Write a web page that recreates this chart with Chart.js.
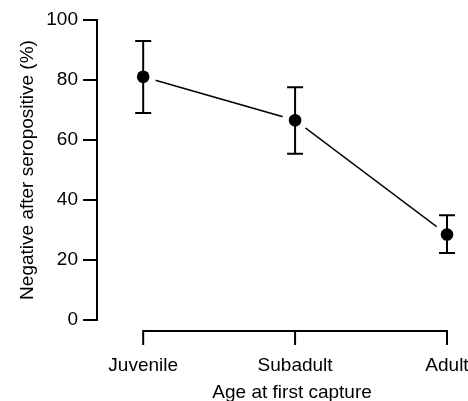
<!DOCTYPE html>
<html>
<head>
<meta charset="utf-8">
<script src="https://cdn.jsdelivr.net/npm/chart.js@4"></script>
<style>
html,body{margin:0;padding:0;background:#fff;}
#wrap{width:468px;height:401px;position:relative;}
</style>
</head>
<body>
<div id="wrap"><canvas id="c"></canvas></div>
<script>
const categories = ['Juvenile', 'Subadult', 'Adult'];
const values = [81.1, 66.6, 28.5];
const upper = [93.0, 77.6, 34.9];
const lower = [69.0, 55.4, 22.3];
const yTicks = [0, 20, 40, 60, 80, 100];
const xTitle = 'Age at first capture';
const yTitle = 'Negative after seropositive (%)';

const pts = values.map((v, i) => ({x: i, y: v}));
const FONT = 'Liberation Sans, Arial, Helvetica, sans-serif';

const axisPlugin = {
  id: 'customAxes',
  afterDatasetsDraw(chart) {
    const ctx = chart.ctx;
    const xs = chart.scales.x, ys = chart.scales.y;
    ctx.save();
    ctx.strokeStyle = '#000';
    ctx.lineWidth = 2;
    const cap = 8;
    categories.forEach((c, i) => {
      const px = xs.getPixelForValue(i);
      const yh = ys.getPixelForValue(upper[i]);
      const yl = ys.getPixelForValue(lower[i]);
      ctx.beginPath();
      ctx.moveTo(px, yh); ctx.lineTo(px, yl);
      ctx.moveTo(px - cap, yh); ctx.lineTo(px + cap, yh);
      ctx.moveTo(px - cap, yl); ctx.lineTo(px + cap, yl);
      ctx.stroke();
    });
    ctx.fillStyle = '#000';
    values.forEach((v, i) => {
      ctx.beginPath();
      ctx.arc(xs.getPixelForValue(i), ys.getPixelForValue(v), 6.3, 0, Math.PI * 2);
      ctx.fill();
    });
    const ay = chart.chartArea.bottom + 11;
    const x0 = xs.getPixelForValue(0), x2 = xs.getPixelForValue(categories.length - 1);
    ctx.beginPath();
    ctx.moveTo(x0, ay + 14); ctx.lineTo(x0, ay); ctx.lineTo(x2, ay); ctx.lineTo(x2, ay + 14);
    for (let i = 1; i < categories.length - 1; i++) {
      const p = xs.getPixelForValue(i);
      ctx.moveTo(p, ay); ctx.lineTo(p, ay + 14);
    }
    ctx.stroke();
    // x axis title centred under the offset x axis
    ctx.font = '19px ' + FONT;
    ctx.textAlign = 'center';
    ctx.textBaseline = 'alphabetic';
    ctx.fillText(xTitle, (x0 + x2) / 2 - 3, chart.chartArea.bottom + 78);
    ctx.restore();
  }
};

new Chart(document.getElementById('c'), {
  type: 'scatter',
  data: {
    datasets: [
      {
        data: pts, showLine: true, borderColor: '#000', borderWidth: 1.5,
        pointRadius: 0, order: 3
      },
      {
        data: pts, showLine: false, pointRadius: 13, pointBackgroundColor: '#fff',
        pointBorderWidth: 0, pointBorderColor: '#fff', order: 2
      }
    ]
  },
  options: {
    responsive: true,
    maintainAspectRatio: false,
    animation: false,
    devicePixelRatio: 1,
    events: [],
    layout: {padding: {left: 0, top: 20, right: 21, bottom: 0}},
    plugins: {legend: {display: false}, tooltip: {enabled: false}},
    scales: {
      x: {
        type: 'linear', min: -0.304, max: 2,
        afterBuildTicks: s => { s.ticks = categories.map((c, i) => ({value: i})); },
        afterFit: s => { s.height = 81; s.paddingLeft = 0; s.paddingRight = 0; },
        grid: {display: false, drawTicks: false},
        border: {display: false},
        ticks: {
          autoSkip: false, maxRotation: 0, padding: 34,
          color: '#000', font: {family: FONT, size: 19},
          callback: v => categories[v]
        },
        title: {display: false}
      },
      y: {
        min: 0, max: 100,
        afterBuildTicks: s => { s.ticks = yTicks.map(v => ({value: v})); },
        afterFit: s => { s.width = 97; s.paddingTop = 0; s.paddingBottom = 0; },
        grid: {drawOnChartArea: false, drawTicks: true, tickLength: 14, color: '#000', lineWidth: 2},
        border: {display: true, color: '#000', width: 2},
        ticks: {padding: 5, color: '#000', font: {family: FONT, size: 19}},
        title: {display: true, text: yTitle, color: '#000',
          font: {family: FONT, size: 19}, padding: {top: 16, bottom: 0}}
      }
    }
  },
  plugins: [axisPlugin]
});
</script>
</body>
</html>
